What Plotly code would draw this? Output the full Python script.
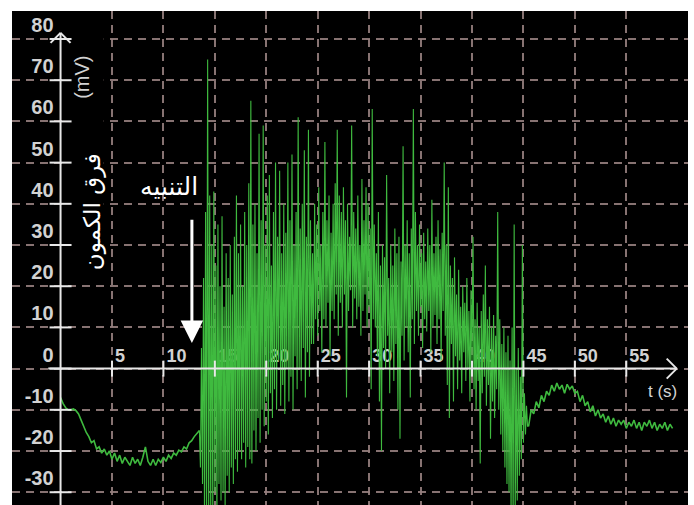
import numpy as np
import plotly.graph_objects as go

# ---------------- data ----------------
x_ticks = [5, 10, 15, 20, 25, 30, 35, 40, 45, 50, 55]
x_tick_labels = ["5", "10", "15", "20", "25", "30", "35", "40", "45", "50", "55"]
y_ticks = [-30, -20, -10, 0, 10, 20, 30, 40, 50, 60, 70, 80]
y_tick_labels = ["-30", "-20", "-10", "0", "10", "20", "30", "40", "50", "60", "70", "80"]

# rest before stimulation : t = 0 .. 13.25 s, every 0.25 s
rest_before_start, rest_before_step = 0.0, 0.25
rest_before_mv = [
    -7, -8.5, -9.5, -10, -10, -9.8, -10.2, -11, -12.5, -14, -15.5, -16.5, -18, -17.5,
    -19.5, -19, -20.5, -19.5, -21, -20, -22, -20.5, -22.5, -21, -23, -21.5, -22.5, -23.5,
    -21.5, -23, -22, -23.5, -21.5, -19, -22.5, -23.5, -22, -23.5, -22, -22.8, -21.5, -22.5,
    -21, -21.8, -20.5, -21, -19.8, -20.2, -19, -19.5, -18, -17.5, -16.5, -15.8,
]

# response after stimulation : t = 13.5 .. 45.4 s, every 0.1 s
response_start, response_step = 13.5, 0.1
response_mv = [
    -15, -24, 5, -28, 22, -38, 38, -36, 75, -38,
    42, -38, 30, -36, 43, -30, 25, -38, 35, -28,
    20, -32, 37, -30, 15, -34, 28, -26, 22, -30,
    30, -24, 18, -28, 32, -22, 42, -25, 28, -20,
    35, -22, 20, -18, 38, -24, 30, -19, 45, -22,
    65, -23, 35, -15, 40, -20, 28, -12, 57, -18,
    36, -10, 59, -14, 30, -8, 42, -16, 47, -6,
    25, -12, 38, -5, 50, -10, 32, 2, 48, -9,
    28, -4, 40, -11, 33, 0, 50, -8, 36, -2,
    52, -10, 30, 3, 38, -5, 61, 0, 34, -3,
    40, 5, 53, -7, 32, 4, 58, -2, 36, 6,
    28, 6, 40, 12, 35, 8, 44, 14, 30, 4,
    38, 12, 55, 10, 36, 16, 42, 3, 33, 14,
    40, 12, 45, 18, 58, 8, 42, 16, 38, 10,
    44, 18, 36, -7, 40, 14, 32, 19, 59, 10,
    38, 17, 34, 12, 42, 15, 30, 8, 46, 14,
    36, 18, 44, 10, 40, 15, 34, -5, 63, 12,
    35, 10, 28, 3, 38, -8, 25, -20, 30, 5,
    27, 0, 47, 8, 22, -6, 30, 4, 25, -3,
    34, 6, 28, -10, 32, -17, 26, 8, 54, 2,
    30, 10, 36, 4, 28, -7, 34, 12, 63, 6,
    38, 14, 30, 8, 35, 15, 28, 5, 33, 12,
    26, 9, 34, 14, 30, 4, 41, 10, 28, 13,
    32, 6, 36, 12, 29, 2, 33, 14, 50, 8,
    30, -4, 44, -12, 25, 6, 22, -8, 27, 3,
    18, -5, 24, 2, 15, -6, 20, 4, 16, -3,
    22, 0, 14, -8, 19, 2, 32, -5, 12, -10,
    16, -3, 10, -23, 14, -6, 18, -2, 25, -9,
    12, -4, 15, -17, 10, -8, 13, -12, 8, -5,
    38, -10, 12, -16, 6, -20, 10, -24, 4, -28,
    8, -30, 2, -36, 10, -38, 35, -36, 0, -32,
    5, -26, -2, -22, 30, -18, -6, -16, -9, -14,
]

# rest after the response : t = 45.5 .. 59.5 s, every 0.25 s
rest_after_start, rest_after_step = 45.5, 0.25
rest_after_mv = [
    -14, -10, -11, -8, -9.5, -6.5, -8, -5.5, -6.5, -4, -5.5, -3.5, -5, -4, -6, -3.8,
    -5, -4.2, -6, -5.5, -8, -6.5, -9, -8, -10.5, -9, -11.5, -10, -12, -11, -13, -11.5,
    -13.5, -12, -14, -12.5, -13.5, -12.5, -14.5, -13, -14, -12.5, -14.5, -13, -15, -13,
    -14, -12.5, -14.5, -13, -15, -13.5, -14.5, -13, -15, -13.5, -14.5,
]

stim_time = 12.77          # stimulation arrow position (s)
stim_arrow = (36.5, 6.2)   # arrow tail / tip (mV)

# ---------------- build time axes (sampling grids) ----------------
def times(start, step, n):
    return [round(start + i * step, 3) for i in range(n)]

t_before = times(rest_before_start, rest_before_step, len(rest_before_mv))
t_resp = times(response_start, response_step, len(response_mv))
t_after = times(rest_after_start, rest_after_step, len(rest_after_mv))

X_RANGE = [-4.72, 61.0]
Y_RANGE = [-33.1, 86.8]
X_TIP = 59.9
Y_TIP = 81.5
X_START = -1.2
AX_COL = "#e8e8e8"
LBL_COL = "#d2d2d2"
GRID_COL = "rgba(150,128,126,0.9)"
GREEN = "#3fba3f"

fig = go.Figure()
# response first, then the two resting segments joined to it
fig.add_trace(go.Scatter(
    x=t_before + [t_resp[0]], y=rest_before_mv + [response_mv[0]], mode="lines",
    line=dict(color=GREEN, width=1.6), hoverinfo="skip", showlegend=False,
))
fig.add_trace(go.Scatter(
    x=t_resp + [t_after[0]], y=response_mv + [rest_after_mv[0]], mode="lines",
    line=dict(color=GREEN, width=1.1), hoverinfo="skip", showlegend=False,
))
fig.add_trace(go.Scatter(
    x=t_after, y=rest_after_mv, mode="lines",
    line=dict(color=GREEN, width=1.6), hoverinfo="skip", showlegend=False,
))

x_pos0 = (0 - Y_RANGE[0]) / (Y_RANGE[1] - Y_RANGE[0])
y_pos0 = (0 - X_RANGE[0]) / (X_RANGE[1] - X_RANGE[0])

fig.update_layout(
    width=694, height=505,
    margin=dict(l=12, r=6, t=11, b=0),
    paper_bgcolor="white",
    plot_bgcolor="black",
    showlegend=False,
    xaxis=dict(
        range=X_RANGE, tickmode="array", tickvals=x_ticks, ticktext=x_tick_labels,
        showgrid=True, gridcolor=GRID_COL, gridwidth=2, griddash="8px,6px",
        zeroline=False, showline=False, ticks="",
        anchor="free", position=x_pos0, side="top",
        ticklabelposition="outside right", ticklabelshift=3, ticklabelstandoff=3,
        tickfont=dict(family="Liberation Sans, Arial", size=18, color=LBL_COL, weight="bold"),
        layer="below traces", fixedrange=True,
    ),
    yaxis=dict(
        range=Y_RANGE, tickmode="array", tickvals=y_ticks, ticktext=y_tick_labels,
        showgrid=True, gridcolor=GRID_COL, gridwidth=2, griddash="8px,6px",
        zeroline=False, showline=False, ticks="",
        anchor="free", position=y_pos0, side="left",
        ticklabelshift=-14, ticklabelstandoff=7,
        tickfont=dict(family="Liberation Sans, Arial", size=20, color=LBL_COL, weight="bold"),
        layer="below traces", fixedrange=True,
    ),
)

shapes = []
# hide grid left of the y axis and behind the vertical axis title
shapes.append(dict(type="rect", xref="x", yref="paper", x0=X_RANGE[0], x1=0, y0=0, y1=1,
                   fillcolor="black", line=dict(width=0), layer="between"))
shapes.append(dict(type="rect", xref="x", yref="y", x0=0.5, x1=4.2, y0=21, y1=83,
                   fillcolor="black", line=dict(width=0), layer="between"))
# axis lines
shapes.append(dict(type="line", xref="x", yref="y", x0=X_START, x1=X_TIP, y0=0, y1=0,
                   line=dict(color=AX_COL, width=2), layer="above"))
shapes.append(dict(type="line", xref="x", yref="y", x0=0, x1=0, y0=Y_RANGE[0], y1=Y_TIP,
                   line=dict(color=AX_COL, width=2), layer="above"))
# open arrow heads
for dy in (-10, 10):
    shapes.append(dict(type="line", xref="x", yref="y", xsizemode="pixel", ysizemode="pixel",
                       xanchor=X_TIP, yanchor=0, x0=0, y0=0, x1=-10, y1=dy,
                       line=dict(color=AX_COL, width=2), layer="above"))
for dx in (-10, 10):
    shapes.append(dict(type="line", xref="x", yref="y", xsizemode="pixel", ysizemode="pixel",
                       xanchor=0, yanchor=Y_TIP, x0=0, y0=0, x1=dx, y1=-10,
                       line=dict(color=AX_COL, width=2), layer="above"))
# tick marks crossing the axes
for yv in y_ticks:
    shapes.append(dict(type="line", xref="x", yref="y", xsizemode="pixel", xanchor=0,
                       x0=-11, x1=11, y0=yv, y1=yv,
                       line=dict(color=AX_COL, width=2), layer="above"))
for xv in x_ticks:
    shapes.append(dict(type="line", xref="x", yref="y", ysizemode="pixel", yanchor=0,
                       y0=-8, y1=8, x0=xv, x1=xv,
                       line=dict(color=AX_COL, width=2), layer="above"))
fig.update_layout(shapes=shapes)

ann = []
# stimulation arrow
ann.append(dict(x=stim_time, y=stim_arrow[1], ax=stim_time, ay=stim_arrow[0],
                xref="x", yref="y", axref="x", ayref="y",
                text="", showarrow=True, arrowhead=2, arrowsize=1.5, arrowwidth=3,
                arrowcolor="white", standoff=0))
ann.append(dict(x=10.54, y=44.3, xref="x", yref="y", text="التنبيه", showarrow=False,
                font=dict(family="DejaVu Sans", size=25, color="white")))
ann.append(dict(x=3.05, y=38.2, xref="x", yref="y", text="فرق الكمون", showarrow=False,
                textangle=-90, font=dict(family="DejaVu Sans", size=23, color="white")))
ann.append(dict(x=2.08, y=70.8, xref="x", yref="y", text="(mV)", showarrow=False,
                textangle=-90, font=dict(family="Liberation Sans, Arial", size=20, color=LBL_COL)))
ann.append(dict(x=58.5, y=-5.5, xref="x", yref="y", text="t (s)", showarrow=False,
                font=dict(family="Liberation Sans, Arial", size=17, color=LBL_COL)))
fig.update_layout(annotations=ann)

fig.write_html("out.html", config={"displayModeBar": False},
               post_script="document.body.style.margin='0';")
